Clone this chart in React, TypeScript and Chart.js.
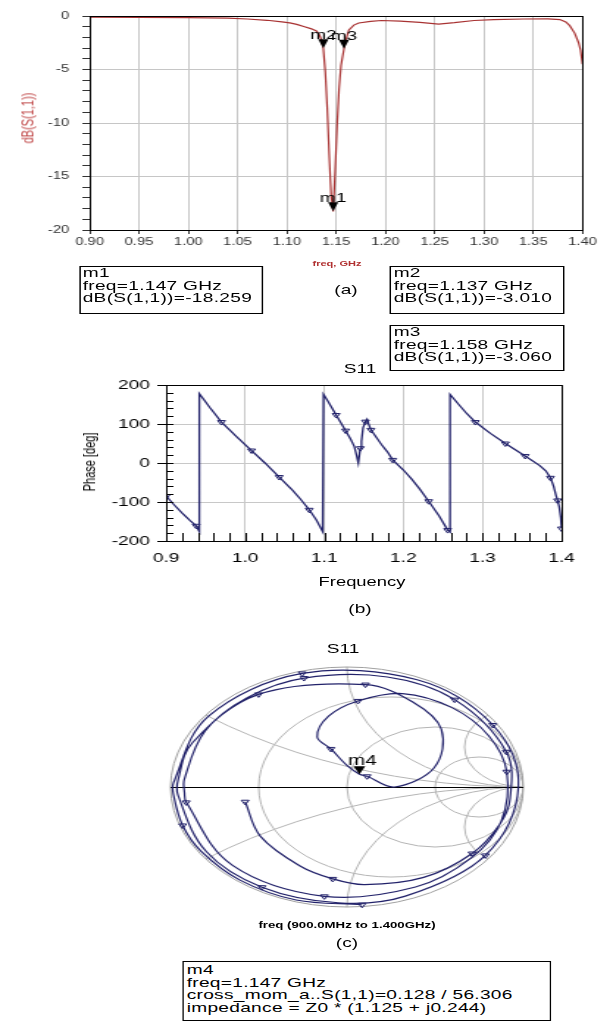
import React, { useEffect, useRef } from 'react';
import { Chart, registerables } from 'chart.js';

Chart.register(...registerables);

const FONT = '"Liberation Sans", Arial, Helvetica, sans-serif';
// the original figure is stretched horizontally; everything is laid out unstretched and scaled by K
const K = 1.47;
const u = (x: number) => x / K;

// ---------------- (a) dB(S(1,1)) vs freq ----------------
const dbFreq = [0.900, 0.950, 1.000, 1.040, 1.060, 1.080, 1.095, 1.103, 1.110, 1.118, 1.125, 1.130, 1.133, 1.135, 1.137, 1.139, 1.141, 1.143, 1.145, 1.147, 1.149, 1.151, 1.153, 1.155, 1.158, 1.160, 1.163, 1.168, 1.173, 1.185, 1.196, 1.215, 1.235, 1.254, 1.270, 1.290, 1.310, 1.340, 1.365, 1.377, 1.383, 1.387, 1.392, 1.396, 1.398, 1.400];
const dbValue = [-0.10, -0.12, -0.15, -0.20, -0.28, -0.40, -0.55, -0.65, -0.78, -1.00, -1.20, -1.40, -1.75, -2.20, -3.01, -5.20, -8.60, -13.0, -16.8, -18.259, -14.5, -10.2, -6.8, -4.6, -3.06, -2.2, -1.3, -0.85, -0.65, -0.50, -0.42, -0.48, -0.60, -0.75, -0.62, -0.42, -0.33, -0.28, -0.26, -0.33, -0.55, -0.90, -1.60, -2.50, -3.20, -4.50];
const dbXTickLabels = ['0.90', '0.95', '1.00', '1.05', '1.10', '1.15', '1.20', '1.25', '1.30', '1.35', '1.40'];
const dbYTickLabels = ['0', '-5', '-10', '-15', '-20'];
const dbMarkerName = ['m1', 'm2', 'm3'];
const dbMarkerFreq = [1.147, 1.137, 1.158];
const dbMarkerValue = [-18.259, -3.010, -3.060];

const m1Lines = ['m1', 'freq=1.147 GHz', 'dB(S(1,1))=-18.259'];
const m2Lines = ['m2', 'freq=1.137 GHz', 'dB(S(1,1))=-3.010'];
const m3Lines = ['m3', 'freq=1.158 GHz', 'dB(S(1,1))=-3.060'];

// ---------------- (b) phase of S11 ----------------
const phaseFreq = [0.900, 0.910, 0.920, 0.930, 0.938, 0.942, 0.942, 0.955, 0.970, 0.990, 1.008, 1.025, 1.043, 1.060, 1.070, 1.081, 1.090, 1.098, 1.099, 1.105, 1.115, 1.127, 1.133, 1.138, 1.141, 1.143, 1.1455, 1.147, 1.149, 1.152, 1.154, 1.156, 1.159, 1.165, 1.172, 1.180, 1.1865, 1.200, 1.210, 1.220, 1.232, 1.245, 1.256, 1.259, 1.259, 1.270, 1.280, 1.291, 1.310, 1.329, 1.354, 1.372, 1.380, 1.386, 1.390, 1.393, 1.395, 1.397, 1.399, 1.400];
const phaseDeg = [-85, -107, -128, -147, -161, -176, 178, 143, 105, 66, 32, 0, -36, -70, -93, -120, -146, -176, 176, 157, 123, 83, 62, 42, 18, 0, 38, 56, 90, 106, 112, 100, 85, 68, 48, 28, 8, -18, -40, -65, -98, -135, -172, -177, 176, 150, 127, 105, 76, 50, 18, -6, -20, -38, -60, -83, -96, -112, -140, -168];
const phaseMarkerIndex = [0, 4, 8, 10, 12, 15, 20, 21, 26, 29, 32, 36, 40, 42, 47, 49, 50, 53, 56, 59];
const phaseXTickLabels = ['0.9', '1.0', '1.1', '1.2', '1.3', '1.4'];
const phaseYTickLabels = ['-200', '-100', '0', '100', '200'];

// ---------------- (c) Smith chart of S11 (|S11| per phase sample) ----------------
const smithMag = [0.985, 0.985, 0.985, 0.985, 0.985, 0.985, 0.984, 0.982, 0.980, 0.978, 0.975, 0.972, 0.970, 0.968, 0.966, 0.964, 0.962, 0.960, 0.958, 0.950, 0.920, 0.860, 0.800, 0.720, 0.520, 0.270, 0.145, 0.128, 0.180, 0.330, 0.450, 0.600, 0.720, 0.840, 0.890, 0.910, 0.915, 0.920, 0.920, 0.920, 0.920, 0.920, 0.920, 0.922, 0.924, 0.930, 0.935, 0.940, 0.945, 0.950, 0.950, 0.930, 0.920, 0.900, 0.870, 0.820, 0.770, 0.710, 0.640, 0.590];
const smithResistance = [0.333, 1, 3];
const smithReactance = [0.333, 1, 3];
const m4Mag = 0.128;
const m4Ang = 56.306;
const m4Lines = ['m4', 'freq=1.147 GHz', 'cross_mom_a..S(1,1)=0.128 / 56.306', 'impedance = Z0 * (1.125 + j0.244)'];

const NAVY = '#22226a';
const RED = '#a83232';

const label = (arr: string[], v: number) => arr.find((l) => Math.abs(parseFloat(l) - v) < 1e-6) ?? '';

const framePlugin = {
  id: 'frame',
  afterDatasetsDraw(chart: any) {
    const { ctx, chartArea: a } = chart;
    ctx.save();
    ctx.strokeStyle = '#000';
    ctx.lineWidth = 1;
    ctx.strokeRect(Math.round(a.left) + 0.5, Math.round(a.top) + 0.5, Math.round(a.right - a.left), Math.round(a.bottom - a.top));
    ctx.restore();
  },
};

const dbMarkerPlugin = {
  id: 'dbMarkers',
  afterDatasetsDraw(chart: any) {
    const { ctx, scales } = chart;
    ctx.save();
    ctx.fillStyle = '#000';
    ctx.font = `13px ${FONT}`;
    ctx.textAlign = 'center';
    ctx.textBaseline = 'alphabetic';
    dbMarkerName.forEach((name, i) => {
      const px = scales.x.getPixelForValue(dbMarkerFreq[i]);
      const py = scales.y.getPixelForValue(dbMarkerValue[i]);
      ctx.beginPath();
      ctx.moveTo(px, py);
      ctx.lineTo(px - 3.5, py - 9);
      ctx.lineTo(px + 3.5, py - 9);
      ctx.closePath();
      ctx.fill();
      ctx.fillText(name, px, py - 9);
    });
    ctx.restore();
  },
};

const PHASE_MINOR_X = 0.02;
const PHASE_MINOR_Y = 20;
const phaseMinorPlugin = {
  id: 'phaseMinor',
  afterDatasetsDraw(chart: any) {
    const { ctx, chartArea: a, scales } = chart;
    const xs = scales.x;
    const ys = scales.y;
    ctx.save();
    ctx.strokeStyle = '#000';
    ctx.lineWidth = 1;
    ctx.beginPath();
    for (let v = xs.min; v <= xs.max + 1e-9; v += PHASE_MINOR_X) {
      const px = Math.round(xs.getPixelForValue(v)) + 0.5;
      ctx.moveTo(px, a.bottom);
      ctx.lineTo(px, a.bottom - 8);
    }
    for (let v = ys.min; v <= ys.max + 1e-9; v += PHASE_MINOR_Y) {
      const py = Math.round(ys.getPixelForValue(v)) + 0.5;
      ctx.moveTo(a.left, py);
      ctx.lineTo(a.left + 5, py);
    }
    ctx.stroke();
    ctx.restore();
  },
};

const smithGridPlugin = {
  id: 'smithGrid',
  beforeDatasetsDraw(chart: any) {
    const { ctx, scales } = chart;
    const xs = scales.x;
    const ys = scales.y;
    const cx = xs.getPixelForValue(0);
    const cy = ys.getPixelForValue(0);
    const sx = xs.getPixelForValue(1) - cx;
    const sy = cy - ys.getPixelForValue(1);
    ctx.save();
    ctx.beginPath();
    ctx.ellipse(cx, cy, sx, sy, 0, 0, Math.PI * 2);
    ctx.clip();
    ctx.strokeStyle = '#b4b4b4';
    ctx.lineWidth = 1;
    smithResistance.forEach((r) => {
      const c = r / (1 + r);
      const rad = 1 / (1 + r);
      ctx.beginPath();
      ctx.ellipse(xs.getPixelForValue(c), cy, rad * sx, rad * sy, 0, 0, Math.PI * 2);
      ctx.stroke();
    });
    smithReactance.forEach((xr) => {
      [1, -1].forEach((s) => {
        const rad = 1 / xr;
        ctx.beginPath();
        ctx.ellipse(xs.getPixelForValue(1), ys.getPixelForValue(s / xr), rad * sx, rad * sy, 0, 0, Math.PI * 2);
        ctx.stroke();
      });
    });
    ctx.restore();
    ctx.save();
    ctx.strokeStyle = '#a0a0a0';
    ctx.lineWidth = 1;
    ctx.beginPath();
    ctx.ellipse(cx, cy, sx, sy, 0, 0, Math.PI * 2);
    ctx.stroke();
    ctx.strokeStyle = '#000';
    ctx.beginPath();
    ctx.moveTo(xs.getPixelForValue(-1), Math.round(cy) + 0.5);
    ctx.lineTo(xs.getPixelForValue(1), Math.round(cy) + 0.5);
    ctx.stroke();
    ctx.restore();
  },
  afterDatasetsDraw(chart: any) {
    const { ctx, scales } = chart;
    const a = (m4Ang * Math.PI) / 180;
    const px = scales.x.getPixelForValue(m4Mag * Math.cos(a));
    const py = scales.y.getPixelForValue(m4Mag * Math.sin(a));
    ctx.save();
    ctx.fillStyle = '#000';
    ctx.beginPath();
    ctx.moveTo(px, py);
    ctx.lineTo(px - 4, py - 8);
    ctx.lineTo(px + 4, py - 8);
    ctx.closePath();
    ctx.fill();
    ctx.font = `14px ${FONT}`;
    ctx.textAlign = 'center';
    ctx.textBaseline = 'alphabetic';
    ctx.fillText('m4', px + 2, py - 9);
    ctx.restore();
  },
};

function makeA(canvas: HTMLCanvasElement) {
  return new Chart(canvas, {
    type: 'scatter',
    data: {
      datasets: [
        {
          data: dbFreq.map((f, i) => ({ x: f, y: dbValue[i] })),
          showLine: true,
          borderColor: RED,
          borderWidth: 1.2,
          pointRadius: 0,
          tension: 0,
        },
      ],
    },
    options: {
      responsive: false,
      animation: false,
      events: [],
      layout: { padding: { top: 16, right: 10, left: 0, bottom: 0 } },
      plugins: { legend: { display: false }, tooltip: { enabled: false } },
      scales: {
        x: {
          type: 'linear',
          min: 0.9,
          max: 1.4,
          afterFit: (s: any) => { s.height = 45; },
          ticks: { stepSize: 0.05, autoSkip: false, maxRotation: 0, padding: 2, font: { size: 10 }, color: '#333', callback: (v: any) => label(dbXTickLabels, Number(v)) },
          grid: { color: '#c6c6c6', tickColor: '#333', tickLength: 4 },
          border: { color: '#000' },
        },
        y: {
          type: 'linear',
          min: -20,
          max: 0,
          afterFit: (s: any) => { s.width = 61; },
          ticks: { stepSize: 1, autoSkip: false, padding: 9, font: { size: 10 }, color: '#333', callback: (v: any) => label(dbYTickLabels, Number(v)) },
          grid: {
            color: (c: any) => (c.tick && label(dbYTickLabels, c.tick.value) !== '' ? '#c6c6c6' : 'rgba(0,0,0,0)'),
            tickColor: '#333',
            tickLength: 5,
          },
          border: { color: '#000' },
        },
      },
    } as any,
    plugins: [framePlugin, dbMarkerPlugin],
  });
}

function makeB(canvas: HTMLCanvasElement) {
  const marks = new Set(phaseMarkerIndex);
  return new Chart(canvas, {
    type: 'scatter',
    data: {
      datasets: [
        {
          data: phaseFreq.map((f, i) => ({ x: f, y: phaseDeg[i] })),
          showLine: true,
          borderColor: NAVY,
          borderWidth: 1.3,
          tension: 0,
          pointStyle: 'triangle',
          rotation: 180,
          pointRadius: (c: any) => (marks.has(c.dataIndex) ? 3 : 0),
          pointBackgroundColor: 'rgba(255,255,255,0)',
          pointBorderColor: NAVY,
          pointBorderWidth: 1,
        },
      ],
    },
    options: {
      responsive: false,
      animation: false,
      events: [],
      layout: { padding: { top: 25, right: 26, left: 0, bottom: 0 } },
      plugins: { legend: { display: false }, tooltip: { enabled: false } },
      scales: {
        x: {
          type: 'linear',
          min: 0.9,
          max: 1.4,
          afterFit: (s: any) => { s.height = 59; },
          ticks: { stepSize: 0.1, autoSkip: false, maxRotation: 0, padding: 10, font: { size: 13 }, color: '#000', callback: (v: any) => label(phaseXTickLabels, Number(v)) },
          grid: { color: '#c8c8c8', drawTicks: false },
          border: { color: '#000' },
        },
        y: {
          type: 'linear',
          min: -200,
          max: 200,
          afterFit: (s: any) => { s.width = 113; },
          ticks: { stepSize: 100, autoSkip: false, padding: 5, font: { size: 13 }, color: '#000', callback: (v: any) => label(phaseYTickLabels, Number(v)) },
          grid: { color: '#c8c8c8', tickColor: '#000', tickLength: 6 },
          border: { color: '#000' },
        },
      },
    } as any,
    plugins: [framePlugin, phaseMinorPlugin],
  });
}

function makeC(canvas: HTMLCanvasElement) {
  const marks = new Set(phaseMarkerIndex);
  return new Chart(canvas, {
    type: 'scatter',
    data: {
      datasets: [
        {
          data: smithMag.map((m, i) => {
            const a = (phaseDeg[i] * Math.PI) / 180;
            return { x: m * Math.cos(a), y: m * Math.sin(a) };
          }),
          showLine: true,
          clip: false,
          borderColor: NAVY,
          borderWidth: 1.2,
          tension: 0.35,
          pointStyle: 'triangle',
          rotation: 180,
          pointRadius: (c: any) => (marks.has(c.dataIndex) ? 3 : 0),
          pointBackgroundColor: 'rgba(255,255,255,0)',
          pointBorderColor: NAVY,
          pointBorderWidth: 1,
        },
      ],
    },
    options: {
      responsive: false,
      animation: false,
      events: [],
      layout: { padding: 10 },
      plugins: { legend: { display: false }, tooltip: { enabled: false } },
      scales: {
        x: { type: 'linear', min: -1, max: 1, display: false },
        y: { type: 'linear', min: -1, max: 1, display: false },
      },
    } as any,
    plugins: [smithGridPlugin],
  });
}

function Txt(props: { x: number; y: number; size?: number; color?: string; rotate?: boolean; bold?: boolean; children: React.ReactNode }) {
  const { x, y, size = 13, color = '#000', rotate = false, bold = false, children } = props;
  return (
    <div
      style={{
        position: 'absolute',
        left: u(x),
        top: y,
        transform: `translate(-50%, -50%)${rotate ? ' rotate(-90deg)' : ''}`,
        fontSize: size,
        color,
        whiteSpace: 'nowrap',
        lineHeight: 1,
        fontWeight: bold ? 'bold' : 'normal',
      }}
    >
      {children}
    </div>
  );
}

function Box(props: { x: number; y: number; w: number; h: number; lines: string[]; padTop?: number }) {
  const { x, y, w, h, lines, padTop = 0 } = props;
  return (
    <div
      style={{
        position: 'absolute',
        left: u(x),
        top: y,
        width: u(w),
        height: h,
        border: '1px solid #000',
        boxSizing: 'border-box',
        padding: `${padTop}px 0 0 1.5px`,
        fontSize: 13,
        lineHeight: '12.7px',
        letterSpacing: '0.2px',
        whiteSpace: 'pre',
        background: '#fff',
      }}
    >
      {lines.map((l) => (
        <div key={l}>{l}</div>
      ))}
    </div>
  );
}

export default function App() {
  const aRef = useRef<HTMLCanvasElement>(null);
  const bRef = useRef<HTMLCanvasElement>(null);
  const cRef = useRef<HTMLCanvasElement>(null);

  useEffect(() => {
    Chart.defaults.font.family = FONT;
    Chart.defaults.color = '#000';
    const charts = [makeA(aRef.current!), makeB(bRef.current!), makeC(cRef.current!)];
    return () => charts.forEach((c) => c.destroy());
  }, []);

  const W = Math.round(600 / K);
  return (
    <div style={{ position: 'absolute', left: 0, top: 0, width: 600, height: 1023, overflow: 'hidden', background: '#fff', fontFamily: FONT }}>
      <div style={{ position: 'absolute', left: 0, top: 0, width: W, height: 1023, transform: `scaleX(${K})`, transformOrigin: '0 0' }}>
        <canvas ref={aRef} width={W} height={275} style={{ position: 'absolute', left: 0, top: 0, width: W, height: 275 }} />
        <canvas ref={bRef} width={W} height={240} style={{ position: 'absolute', left: 0, top: 360, width: W, height: 240 }} />
        <canvas ref={cRef} width={260} height={260} style={{ position: 'absolute', left: 106, top: 657, width: 260, height: 260 }} />

        <Txt x={28} y={118} size={11} color="#c04848" rotate>dB(S(1,1))</Txt>
        <Txt x={337} y={264} size={7.5} color="#b03030" bold>freq, GHz</Txt>
        <Box x={79} y={266} w={184} h={48} lines={m1Lines} />
        <Txt x={346} y={289} size={13}>(a)</Txt>
        <Box x={390} y={266} w={174} h={48} lines={m2Lines} />
        <Box x={390} y={325} w={174} h={46} lines={m3Lines} />

        <Txt x={360} y={368} size={13}>S11</Txt>
        <Txt x={90} y={462} size={11} rotate>Phase [deg]</Txt>
        <Txt x={362} y={582} size={12.5}>Frequency</Txt>
        <Txt x={360} y={608} size={13}>(b)</Txt>

        <Txt x={343} y={648} size={13}>S11</Txt>
        <Txt x={347} y={925} size={9} bold>freq (900.0MHz to 1.400GHz)</Txt>
        <Txt x={347} y={942} size={13}>(c)</Txt>
        <Box x={183} y={961} w={368} h={60} lines={m4Lines} padTop={2} />
      </div>
    </div>
  );
}
